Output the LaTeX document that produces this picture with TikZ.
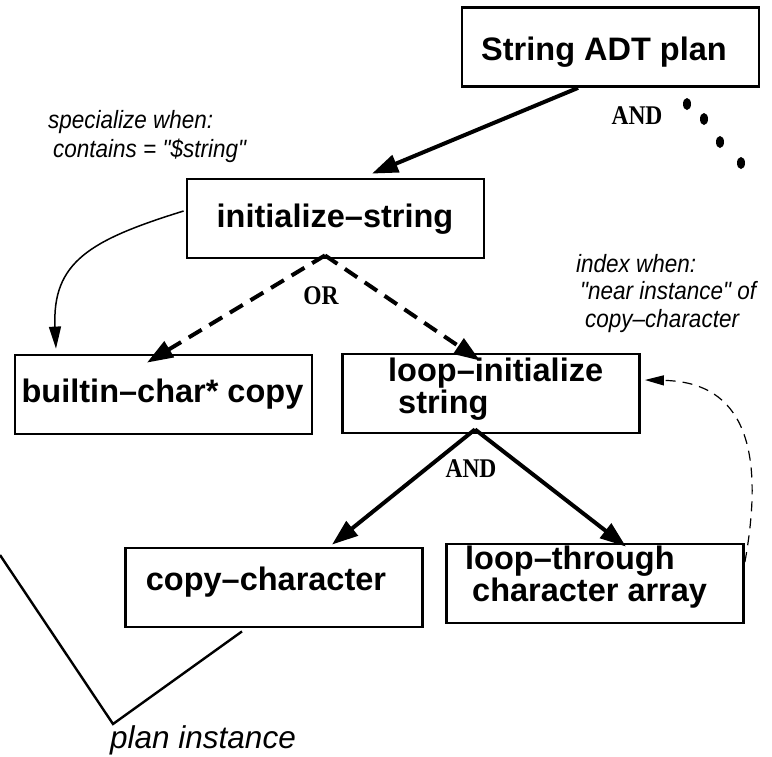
\documentclass[tikz,border=0pt]{standalone}
\usepackage{fontspec}
\setsansfont{Liberation Sans}
\newfontfamily\labfont{Liberation Sans}[FakeStretch=0.9]
\newfontfamily\andfont{Liberation Serif}[FakeStretch=0.87]
\usetikzlibrary{arrows.meta}
\begin{document}
\begin{tikzpicture}[x=1pt,y=-1pt,
  boxnode/.style={draw, line width=2.8pt, minimum width=297pt, minimum height=79pt, inner sep=0pt},
  boxtext/.style={font=\sffamily\bfseries\fontsize{32.5}{29.5}\selectfont, inner sep=0pt},
  lab/.style={font=\labfont\itshape\fontsize{25}{29}\selectfont, inner sep=0pt, anchor=base west, align=left},
  planlab/.style={font=\sffamily\itshape\fontsize{31.5}{31.5}\selectfont, inner sep=0pt, anchor=base west},
  andlab/.style={font=\andfont\bfseries\fontsize{27}{27}\selectfont, inner sep=0pt},
  thickarrow/.style={line width=4pt, -{Triangle[length=26pt,width=18pt]}},
  dasharrow/.style={thickarrow, dash pattern=on 15pt off 9pt},
  thinarrow/.style={line width=1.5pt, -{Triangle[length=22pt,width=12pt]}},
  thindash/.style={line width=1.2pt, dash pattern=on 10pt off 7pt, -{Triangle[length=19pt,width=10pt]}},
  bracketline/.style={line width=2.4pt}
]
\useasboundingbox (0,0) rectangle (772,756);

% boxes
\node[boxnode] (adt) at (610.5,47) {};
\node[boxtext, anchor=base] (adt-t) at (604,60) {String ADT plan};
\node[boxnode] (init) at (335.5,218.5) {};
\node[boxtext, anchor=base] (init-t) at (335,227) {initialize–string};
\node[boxnode] (builtin) at (163.5,394.5) {};
\node[boxtext, anchor=base] (builtin-t) at (162.5,402) {builtin–char* copy};
\node[boxnode] (loopinit) at (491,393.5) {};
\node[boxtext, anchor=base west, align=left] (loopinit-t) at (388,413) {loop–initialize\\\hspace*{10pt}string};
\node[boxnode] (copychar) at (274,587.5) {};
\node[boxtext, anchor=base] (copychar-t) at (266,590) {copy–character};
\node[boxnode] (loopthru) at (595,583.5) {};
\node[boxtext, anchor=base west, align=left] (loopthru-t) at (465,601) {loop–through\\\hspace*{7pt}character array};

% labels
\node[lab] (spec) at (48,157) {specialize when:\\\hspace*{5pt}contains = "\$string"};
\node[lab, font=\labfont\itshape\fontsize{25}{27.5}\selectfont] (idx) at (576,327) {index when:\\\hspace*{4pt}"near instance" of\\\hspace*{9pt}copy–character};
\node[planlab] (plan) at (110,748) {plan instance};
\node[andlab] (or) at (321,296) {OR};
\node[andlab] (and1) at (637,116) {AND};
\node[andlab] (and2) at (471,469) {AND};

% dots
\fill (687,104) ellipse [x radius=4pt, y radius=6pt];
\fill (704,119) ellipse [x radius=4pt, y radius=6pt];
\fill (720,142) ellipse [x radius=4pt, y radius=6pt];
\fill (741,163) ellipse [x radius=4pt, y radius=6pt];

% connectors
\draw[thickarrow] ([xshift=-32.5pt]adt.south) -- ([xshift=36.5pt,yshift=4pt]init.north);
\draw[dasharrow] ([xshift=-10.5pt,yshift=4pt]init.south) -- ([xshift=-16.5pt,yshift=-9pt]builtin.north);
\draw[dasharrow] ([xshift=-10.5pt,yshift=4pt]init.south) -- ([xshift=-11pt,yshift=-8pt]loopinit.north);
\draw[thickarrow] ([xshift=-16pt,yshift=5pt]loopinit.south) -- ([xshift=58pt,yshift=2pt]copychar.north);
\draw[thickarrow] ([xshift=-16pt,yshift=5pt]loopinit.south) -- ([xshift=31pt,yshift=-4pt]loopthru.north);
\draw[thinarrow] ([xshift=-2pt,yshift=7.5pt]init.west) .. controls (90,240) and (52,262) .. ([xshift=-107.5pt,yshift=5pt]builtin.north);
\draw[thindash] ([yshift=21.5pt]loopthru.east) .. controls (765,450) and (745,382) .. ([xshift=4pt,yshift=13.5pt]loopinit.east);

% plan instance bracket
\coordinate (brL) at (0,555);
\coordinate (brV) at (113,724);
\draw[bracketline] (brL) -- (brV) -- ([xshift=-32pt,yshift=-3pt]copychar.south);
\end{tikzpicture}
\end{document}
